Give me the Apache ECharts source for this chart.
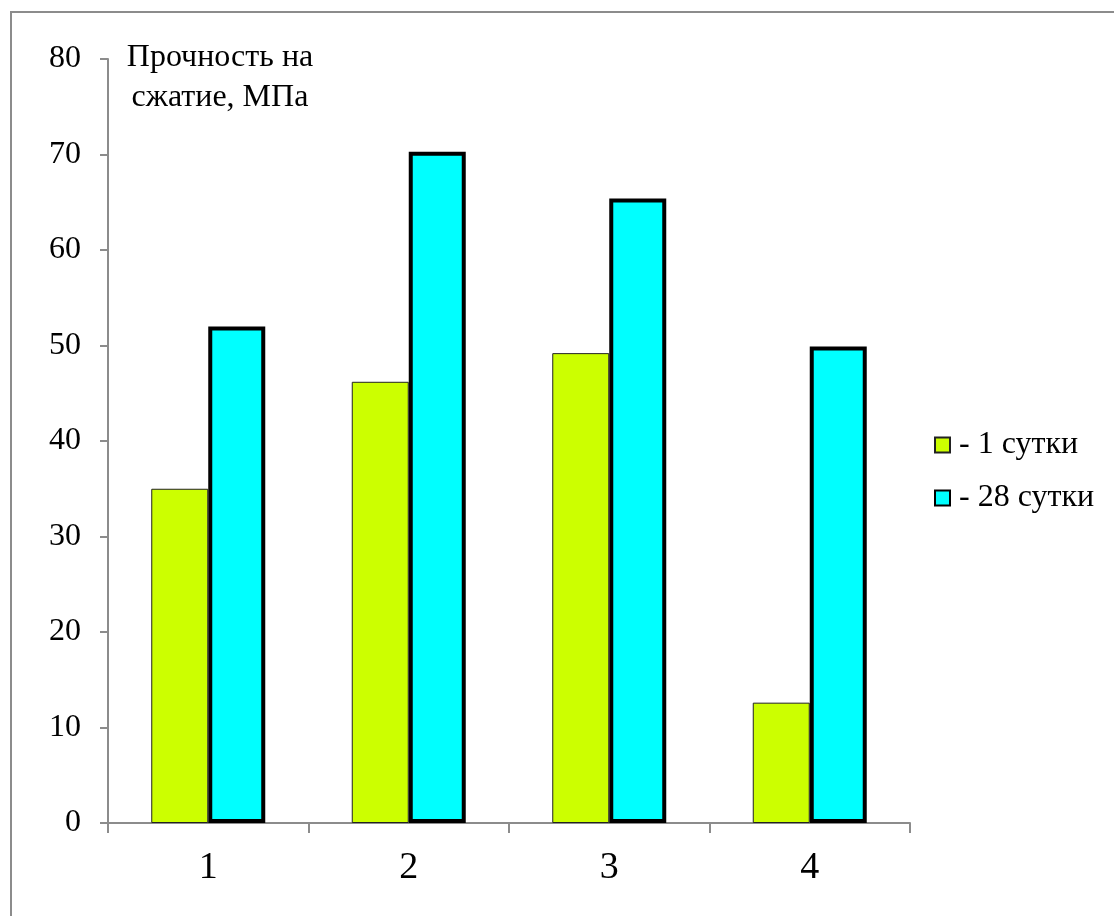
<!DOCTYPE html>
<html>
<head>
<meta charset="utf-8">
<script src="https://cdn.jsdelivr.net/npm/echarts@6/dist/echarts.min.js"></script>
<style>
  html, body { margin: 0; padding: 0; background: #fff; }
  #chart { width: 1114px; height: 916px; }
</style>
</head>
<body>
<div id="chart"></div>
<script>
// Compressive strength of samples after 1 and 28 days of curing
const categories = ['1', '2', '3', '4'];
const seriesNames = ['1 сутки', '28 сутки'];
const day1 = [35.0, 46.2, 49.2, 12.6];
const day28 = [52.0, 70.3, 65.4, 49.9];
const yTitle = ['Прочность на', 'сжатие, МПа'];

const FONT = '"Liberation Serif", "Times New Roman", serif';
const chart = echarts.init(document.getElementById('chart'), null, { renderer: 'canvas' });

chart.setOption({
  backgroundColor: '#fff',
  animation: false,
  grid: { left: 108, right: 204, top: 59, bottom: 93, containLabel: false },
  graphic: [
    {
      type: 'rect',
      shape: { x: 11, y: 12, width: 1200, height: 1000 },
      style: { fill: 'none', stroke: '#8c8c8c', lineWidth: 2 },
      silent: true
    },
    {
      type: 'text',
      x: 220, y: 38,
      style: {
        text: yTitle.join('\n'),
        font: '32px ' + FONT,
        fill: '#000',
        align: 'center',
        lineHeight: 40
      },
      silent: true
    }
  ],
  legend: {
    orient: 'vertical',
    left: 929,
    top: 424,
    itemWidth: 15,
    itemHeight: 15,
    itemGap: 21,
    icon: 'rect',
    formatter: n => '- ' + n,
    textStyle: { fontFamily: FONT, fontSize: 32, color: '#000', padding: [0, 0, 0, 4] },
    data: seriesNames
  },
  xAxis: {
    type: 'category',
    data: categories,
    axisLine: { lineStyle: { color: '#8c8c8c', width: 2 } },
    axisTick: { show: true, length: 10, lineStyle: { color: '#8c8c8c', width: 2 } },
    axisLabel: { fontFamily: FONT, fontSize: 38, color: '#000', margin: 26 },
    splitLine: { show: false }
  },
  yAxis: {
    type: 'value',
    min: 0, max: 80, interval: 10,
    axisLine: { show: true, lineStyle: { color: '#8c8c8c', width: 2 } },
    axisTick: { show: true, length: 8, lineStyle: { color: '#8c8c8c', width: 2 } },
    axisLabel: { fontFamily: FONT, fontSize: 32, color: '#000', margin: 27 },
    splitLine: { show: false }
  },
  series: [
    {
      name: seriesNames[0],
      type: 'bar',
      data: day1,
      barWidth: 57,
      barGap: '0%',
      itemStyle: { color: '#ccff00', borderColor: '#222', borderWidth: 1 }
    },
    {
      name: seriesNames[1],
      type: 'bar',
      data: day28,
      barWidth: 57,
      barGap: '0%',
      itemStyle: { color: '#00ffff', borderColor: '#000', borderWidth: 4 }
    }
  ]
});
</script>
</body>
</html>
